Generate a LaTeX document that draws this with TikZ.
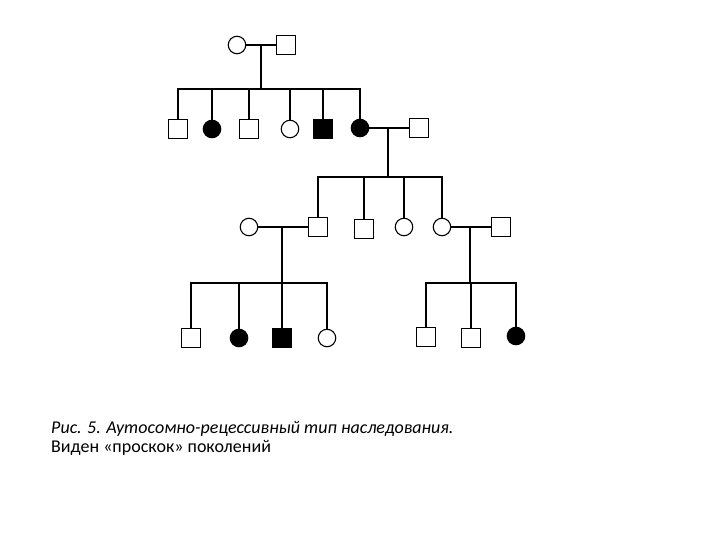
\documentclass[tikz,border=0pt]{standalone}
\usepackage{fontspec}
\setmainfont{Carlito}
\usetikzlibrary{calc}

\begin{document}
\begin{tikzpicture}[x=1pt,y=-1pt,
  male/.style={draw,line width=1.1pt,fill=white,minimum size=19pt,inner sep=0pt},
  female/.style={draw,circle,line width=1.1pt,fill=white,minimum size=17.5pt,inner sep=0pt},
  affm/.style={male,fill=black},
  afff/.style={female,fill=black},
  link/.style={line width=1.9pt}]
\useasboundingbox (0,0) rectangle (720,540);
% generation I
\node[female] (f1) at (237,45) {};
\node[male] (m1) at (286,45) {};
% generation II
\node[male] (c1) at (178,129) {};
\node[afff] (c2) at (212,129) {};
\node[male] (c3) at (249,129) {};
\node[female] (c4) at (290,129) {};
\node[affm] (c5) at (323,129) {};
\node[afff] (c6) at (360,128) {};
\node[male] (s2) at (419,128) {};
% generation III
\node[female] (s3) at (249,227) {};
\node[male] (d1) at (318,227) {};
\node[male] (d2) at (364,229) {};
\node[female] (d3) at (404,227) {};
\node[female] (d4) at (442,227) {};
\node[male] (s4) at (501,227) {};
% generation IV
\node[male] (e1) at (191,338) {};
\node[afff] (e2) at (239,338) {};
\node[affm] (e3) at (282,338) {};
\node[female] (e4) at (327,338) {};
\node[male] (g1) at (426,337) {};
\node[male] (g2) at (471,338) {};
\node[afff] (g3) at (516,336) {};
% sibship bars
\coordinate (p1) at (261,45);
\coordinate (b1) at (261,89);
\coordinate (p2) at (388,128);
\coordinate (b2) at (388,177);
\coordinate (p3) at (282,227);
\coordinate (b3) at (282,283);
\coordinate (p4) at (470,227);
\coordinate (b4) at (470,283);
% marriages
\draw[link] (f1) -- (m1);
\draw[link] (c6) -- (s2);
\draw[link] (s3) -- (d1);
\draw[link] (d4) -- (s4);
\draw[link] (p1) -- (b1);
\draw[link] (p2) -- (b2);
\draw[link] (p3) -- (b3);
\draw[link] (p4) -- (b4);
% offspring
\draw[link] (c1.north) |- (b1) -| (c6.north);
\foreach \k in {c2,c3,c4,c5}
  \draw[link] (\k.north) -- (\k.north |- b1);
\draw[link] (d1.north) |- (b2) -| (d4.north);
\foreach \k in {d2,d3}
  \draw[link] (\k.north) -- (\k.north |- b2);
\draw[link] (e1.north) |- (b3) -| (e4.north);
\foreach \k in {e2,e3}
  \draw[link] (\k.north) -- (\k.north |- b3);
\draw[link] (g1.north) |- (b4) -| (g3.north);
\draw[link] (g2.north) -- (g2.north |- b4);
% caption
\node[anchor=base west,font=\fontsize{18}{20}\selectfont\itshape,inner sep=0pt] (cap1) at (51,433)
  {Рис. 5. Аутосомно-рецессивный тип наследования.};
\node[anchor=base west,font=\fontsize{18}{20}\selectfont,inner sep=0pt] (cap2) at (51,452)
  {Виден «проскок» поколений};
\end{tikzpicture}
\end{document}
